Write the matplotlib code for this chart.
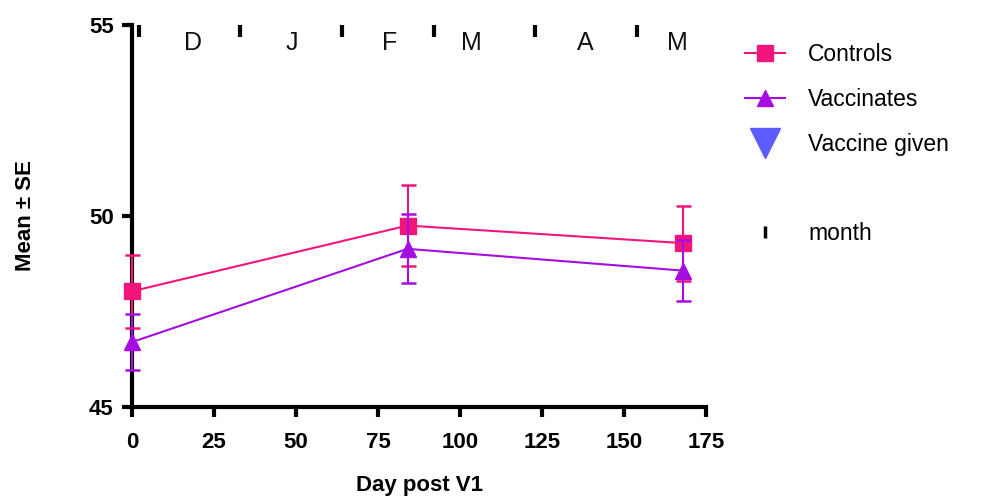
import matplotlib
matplotlib.use("Agg")
import matplotlib.pyplot as plt
from matplotlib.lines import Line2D

plt.rcParams['font.family'] = ['Liberation Sans', 'DejaVu Sans']

# ---- data ----
days = [0, 84, 168]
controls_mean = [48.03, 49.75, 49.29]
controls_se = [0.95, 1.05, 0.98]
vacc_mean = [46.70, 49.14, 48.57]
vacc_se = [0.73, 0.90, 0.79]

month_tick_days = [2, 33, 64, 92, 123, 154]
month_labels = ['D', 'J', 'F', 'M', 'A', 'M']
month_label_days = [18.6, 48.8, 78.4, 103.4, 138.1, 166.2]

xticks = [0, 25, 50, 75, 100, 125, 150, 175]
yticks = [45, 50, 55]

c_ctrl = '#F0167C'
c_vacc = '#A50DE0'
c_given = '#5B5BFF'

fig = plt.figure(figsize=(10.02, 4.97), dpi=100)
ax = fig.add_axes([132/1002, 1 - 407/497, 574/1002, 382/497])

ax.errorbar(days, controls_mean, yerr=controls_se, color=c_ctrl, lw=1.5,
            marker='s', ms=11, elinewidth=1.5, capsize=5.4, capthick=1.8,
            clip_on=False, zorder=3)
ax.errorbar(days, vacc_mean, yerr=vacc_se, color=c_vacc, lw=1.5,
            marker='^', ms=11, elinewidth=1.5, capsize=5.4, capthick=1.8,
            clip_on=False, zorder=4)

# month markers along the top
ax.plot(month_tick_days, [54.84] * len(month_tick_days), linestyle='none',
        marker='|', ms=8.5, mew=3, color='black', clip_on=False)
for d, lab in zip(month_label_days, month_labels):
    ax.text(d, 54.35, lab, ha='center', va='baseline', fontsize=18, color='#111111')

ax.set_xlim(0, 175)
ax.set_ylim(45, 55)
ax.set_xticks(xticks)
ax.set_yticks(yticks)
for s in ['top', 'right']:
    ax.spines[s].set_visible(False)
for s in ['left', 'bottom']:
    ax.spines[s].set_linewidth(3)
ax.tick_params(axis='both', width=3, length=7.2, direction='out',
               labelsize=16)
ax.tick_params(axis='x', pad=10.5)
ax.tick_params(axis='y', pad=6)
for lab in ax.get_xticklabels() + ax.get_yticklabels():
    lab.set_fontweight('bold')

ax.set_xlabel('Day post V1', fontsize=16, fontweight='bold', labelpad=16.5)
ax.set_ylabel('Mean ± SE', fontsize=16, fontweight='bold', labelpad=38)

handles = [
    Line2D([], [], color=c_ctrl, lw=1.5, marker='s', ms=11.5),
    Line2D([], [], color=c_vacc, lw=1.5, marker='^', ms=11.5),
    Line2D([], [], color=c_given, linestyle='none', marker='v', ms=22),
    Line2D([], [], linestyle='none'),
    Line2D([], [], color='black', linestyle='none', marker='|', ms=8, mew=2.5),
]
labels = ['Controls', 'Vaccinates', 'Vaccine given', '', 'month']
fig.legend(handles, labels, loc='upper left',
           bbox_to_anchor=(745/1002, 1 - 43/497), bbox_transform=fig.transFigure,
           frameon=False, fontsize=16.5, borderpad=0, borderaxespad=0,
           handlelength=1.75, handletextpad=1.0, labelspacing=0.95)

fig.savefig('out.png', dpi=100)
